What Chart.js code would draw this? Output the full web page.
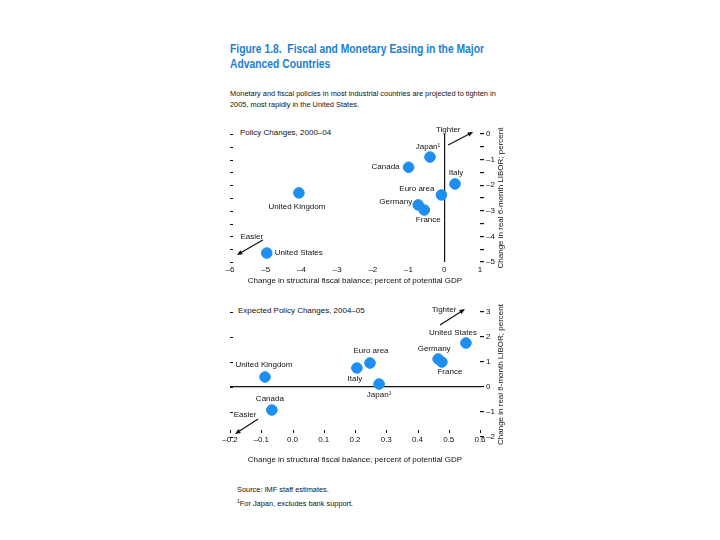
<!DOCTYPE html>
<html lang="en">
<head>
  <meta charset="utf-8"/>
  <title>Fiscal and Monetary Easing in the Major Advanced Countries</title>
  <script src="https://cdn.jsdelivr.net/npm/chart.js"></script>
  <style>
    body { margin: 0; background: #fff; width: 720px; height: 540px; position: relative; overflow: hidden;
           font-family: 'Liberation Sans Narrow', 'Liberation Sans', Arial, sans-serif; color: #111; }
    .abs { position: absolute; white-space: nowrap; }
    .fig { left: 230px; font-size: 12px; font-weight: bold; color: #1b80d2; line-height: 15px;
           transform: scaleX(0.86); transform-origin: left top; }
    .sub { left: 230px; font-size: 7.4px; line-height: 10.5px; }
    .note { left: 237px; font-size: 7.4px; line-height: 10.5px; }
    .panel { font-size: 8px; }
    canvas { position: absolute; }
  </style>
</head>
<body>
  <div class="abs fig" style="top:42px">Figure 1.8.&nbsp; Fiscal and Monetary Easing in the Major<br>Advanced Countries</div>
  <div class="abs sub" style="top:89px">Monetary and fiscal policies in most industrial countries are projected to tighten in<br>2005, most rapidly in the United States.</div>
  <div class="abs panel" style="left:240px; top:128px">Policy Changes, 2000–04</div>
  <div class="abs panel" style="left:238px; top:306px">Expected Policy Changes, 2004–05</div>
  <div class="abs note" style="top:485px">Source: IMF staff estimates.<br><sup style="font-size:5px">1</sup>For Japan, excludes bank support.</div>

  <canvas id="topChart" style="left:220px; top:120px" width="300" height="175"></canvas>
  <canvas id="botChart" style="left:220px; top:298px" width="300" height="175"></canvas>

  <script>
  // ── DATA ─────────────────────────────────────────
  const countries = ['Japan¹', 'Canada', 'Italy', 'Euro area', 'Germany', 'France', 'United Kingdom', 'United States'];

  // 2000–04: change in structural fiscal balance (x) and real 6-month LIBOR (y)
  const fiscal0004 = [-0.4, -1.0, 0.3, -0.08, -0.73, -0.56, -4.07, -4.97];
  const libor0004  = [-0.9, -1.3, -1.95, -2.38, -2.77, -2.97, -2.3, -4.65];

  // 2004–05 expected
  const fiscal0405 = [0.277, -0.066, 0.206, 0.248, 0.466, 0.478, -0.088, 0.555];
  const libor0405  = [0.12, -0.92, 0.76, 0.96, 1.12, 1.0, 0.4, 1.76];

  const xTicksTop = [-6, -5, -4, -3, -2, -1, 0, 1];
  const yTicksTop = [0, -1, -2, -3, -4, -5];
  const xTicksBot = [-0.2, -0.1, 0.0, 0.1, 0.2, 0.3, 0.4, 0.5, 0.6];
  const yTicksBot = [3, 2, 1, 0, -1, -2];
  // ─────────────────────────────────────────────────

  const FONT = "'Liberation Sans Narrow', 'Liberation Sans', Arial, sans-serif";
  const BLUE = '#1e8ef0';
  const xTitle = 'Change in structural fiscal balance; percent of potential GDP';
  const yTitle = 'Change in real 6-month LIBOR; percent';

  // label placement per country: [dx, dy, align]
  const labelPosTop = [[-2, -10, 'center'], [-9, 0, 'right'], [1, -11, 'center'], [-7, -6, 'right'],
                       [-6, -3, 'right'], [4, 10, 'center'], [-2, 14, 'center'], [8, 0, 'left']];
  const labelPosBot = [[0, 11, 'center'], [-2, -11, 'center'], [-2, 11, 'center'], [1, -12, 'center'],
                       [-4, -10, 'center'], [8, 10, 'center'], [-1, -12, 'center'], [-13, -10, 'center']];

  // arrows in data units: [x0, y0, x1, y1, label, lx, ly]
  const arrowsTop = [[0.11, -0.43, 0.81, 0.08, 'Tighter', 0.11, 0.16],
                     [-5.08, -4.14, -5.81, -4.73, 'Easier', -5.39, -4.02]];
  const arrowsBot = [[0.472, 2.48, 0.552, 3.12, 'Tighter', 0.485, 3.08],
                     [-0.110, -1.28, -0.184, -1.88, 'Easier', -0.152, -1.12]];

  function drawArrow(ctx, x0, y0, x1, y1) {
    const a = Math.atan2(y1 - y0, x1 - x0);
    ctx.beginPath();
    ctx.moveTo(x0, y0);
    ctx.lineTo(x1 - 4 * Math.cos(a), y1 - 4 * Math.sin(a));
    ctx.stroke();
    ctx.beginPath();
    ctx.moveTo(x1, y1);
    ctx.lineTo(x1 - 6 * Math.cos(a - 0.4), y1 - 6 * Math.sin(a - 0.4));
    ctx.lineTo(x1 - 6 * Math.cos(a + 0.4), y1 - 6 * Math.sin(a + 0.4));
    ctx.closePath();
    ctx.fill();
  }

  const annot = {
    id: 'annot',
    afterDatasetsDraw(chart, args, opts) {
      const ctx = chart.ctx;
      const xs = chart.scales.x, ys = chart.scales.y;
      const area = chart.chartArea;
      ctx.save();
      ctx.fillStyle = '#111';
      ctx.strokeStyle = '#111';
      ctx.font = '8px ' + FONT;
      ctx.textBaseline = 'middle';

      // country labels
      const meta = chart.getDatasetMeta(0);
      meta.data.forEach((pt, i) => {
        const [dx, dy, al] = opts.labelPos[i];
        ctx.textAlign = al;
        ctx.fillText(countries[i], pt.x + dx, pt.y + dy);
      });

      // arrows
      ctx.lineWidth = 1.2;
      opts.arrows.forEach(a => {
        drawArrow(ctx, xs.getPixelForValue(a[0]), ys.getPixelForValue(a[1]),
                       xs.getPixelForValue(a[2]), ys.getPixelForValue(a[3]));
        ctx.textAlign = 'center';
        ctx.fillText(a[4], xs.getPixelForValue(a[5]), ys.getPixelForValue(a[6]));
      });

      // small inside ticks on the left edge
      ctx.lineWidth = 1;
      ys.ticks.forEach(t => {
        const py = Math.round(ys.getPixelForValue(t.value)) + 0.5;
        ctx.beginPath();
        ctx.moveTo(area.left, py);
        ctx.lineTo(area.left + 3, py);
        ctx.stroke();
      });
      if (opts.xInnerTicks) {
        xs.ticks.forEach(t => {
          const px = Math.round(xs.getPixelForValue(t.value)) + 0.5;
          ctx.beginPath();
          ctx.moveTo(px, area.bottom - 7);
          ctx.lineTo(px, area.bottom - 4);
          ctx.stroke();
        });
      }

      // right axis title, reading bottom to top
      ctx.translate(area.right + 21, (area.top + area.bottom) / 2);
      ctx.rotate(-Math.PI / 2);
      ctx.textAlign = 'center';
      ctx.fillText(yTitle, 0, 0);
      ctx.restore();
    }
  };

  function makeChart(id, xs, ys, cfg) {
    return new Chart(document.getElementById(id), {
      type: 'scatter',
      data: {
        datasets: [{
          data: xs.map((x, i) => ({ x, y: ys[i] })),
          backgroundColor: BLUE,
          borderColor: BLUE,
          pointRadius: 5.3,
          pointHoverRadius: 5.3
        }]
      },
      plugins: [annot],
      options: {
        responsive: false,
        animation: false,
        events: [],
        layout: { padding: { left: 10, right: 6, top: 14, bottom: cfg.padBottom } },
        plugins: {
          legend: { display: false },
          tooltip: { enabled: false },
          annot: { labelPos: cfg.labelPos, arrows: cfg.arrows, xInnerTicks: cfg.xInnerTicks }
        },
        scales: {
          x: {
            type: 'linear',
            min: cfg.xTicks[0], max: cfg.xTicks[cfg.xTicks.length - 1],
            border: { display: false },
            grid: {
              drawTicks: false,
              color: c => (cfg.xZero && c.tick && Math.abs(c.tick.value) < 1e-9) ? '#111' : 'rgba(0,0,0,0)',
              lineWidth: 1.2
            },
            afterBuildTicks: s => { s.ticks = cfg.xTicks.map(v => ({ value: v })); },
            ticks: {
              padding: cfg.xPad,
              color: '#111',
              font: { family: FONT, size: 8 },
              callback: v => cfg.xFmt(v)
            },
            title: { display: true, text: xTitle, color: '#111', font: { family: FONT, size: 8 }, padding: 0 },
            afterFit: s => { s.height = cfg.xHeight; }
          },
          y: {
            type: 'linear',
            position: 'right',
            min: Math.min(...cfg.yTicks), max: Math.max(...cfg.yTicks),
            border: { display: false },
            afterBuildTicks: s => {
              const lo = Math.min(...cfg.yTicks), hi = Math.max(...cfg.yTicks);
              const t = [];
              for (let v = lo; v <= hi + 1e-9; v += 0.5) t.push({ value: Math.round(v * 10) / 10 });
              s.ticks = t;
            },
            grid: {
              drawOnChartArea: !!cfg.yZero,
              drawTicks: true,
              tickLength: 4,
              color: c => (cfg.yZero && c.tick && Math.abs(c.tick.value) < 1e-9) ? '#111' : 'rgba(0,0,0,0)',
              tickColor: '#111',
              lineWidth: 1.2
            },
            ticks: {
              padding: 2,
              color: '#111',
              font: { family: FONT, size: 8 },
              callback: v => Number.isInteger(v) ? String(v).replace('-', '–') : ''
            },
            afterFit: s => { s.width = 34; }
          }
        }
      }
    });
  }

  makeChart('topChart', fiscal0004, libor0004, {
    xTicks: xTicksTop, yTicks: yTicksTop, xZero: true, yZero: false,
    xFmt: v => String(v).replace('-', '–'),
    labelPos: labelPosTop, arrows: arrowsTop, xInnerTicks: false,
    xHeight: 24, padBottom: 9, xPad: 3
  });

  makeChart('botChart', fiscal0405, libor0405, {
    xTicks: xTicksBot, yTicks: yTicksBot, xZero: false, yZero: true,
    xFmt: v => v.toFixed(1).replace('-', '–'),
    labelPos: labelPosBot, arrows: arrowsBot, xInnerTicks: true,
    xHeight: 28, padBottom: 8, xPad: -2
  });
  </script>
</body>
</html>
